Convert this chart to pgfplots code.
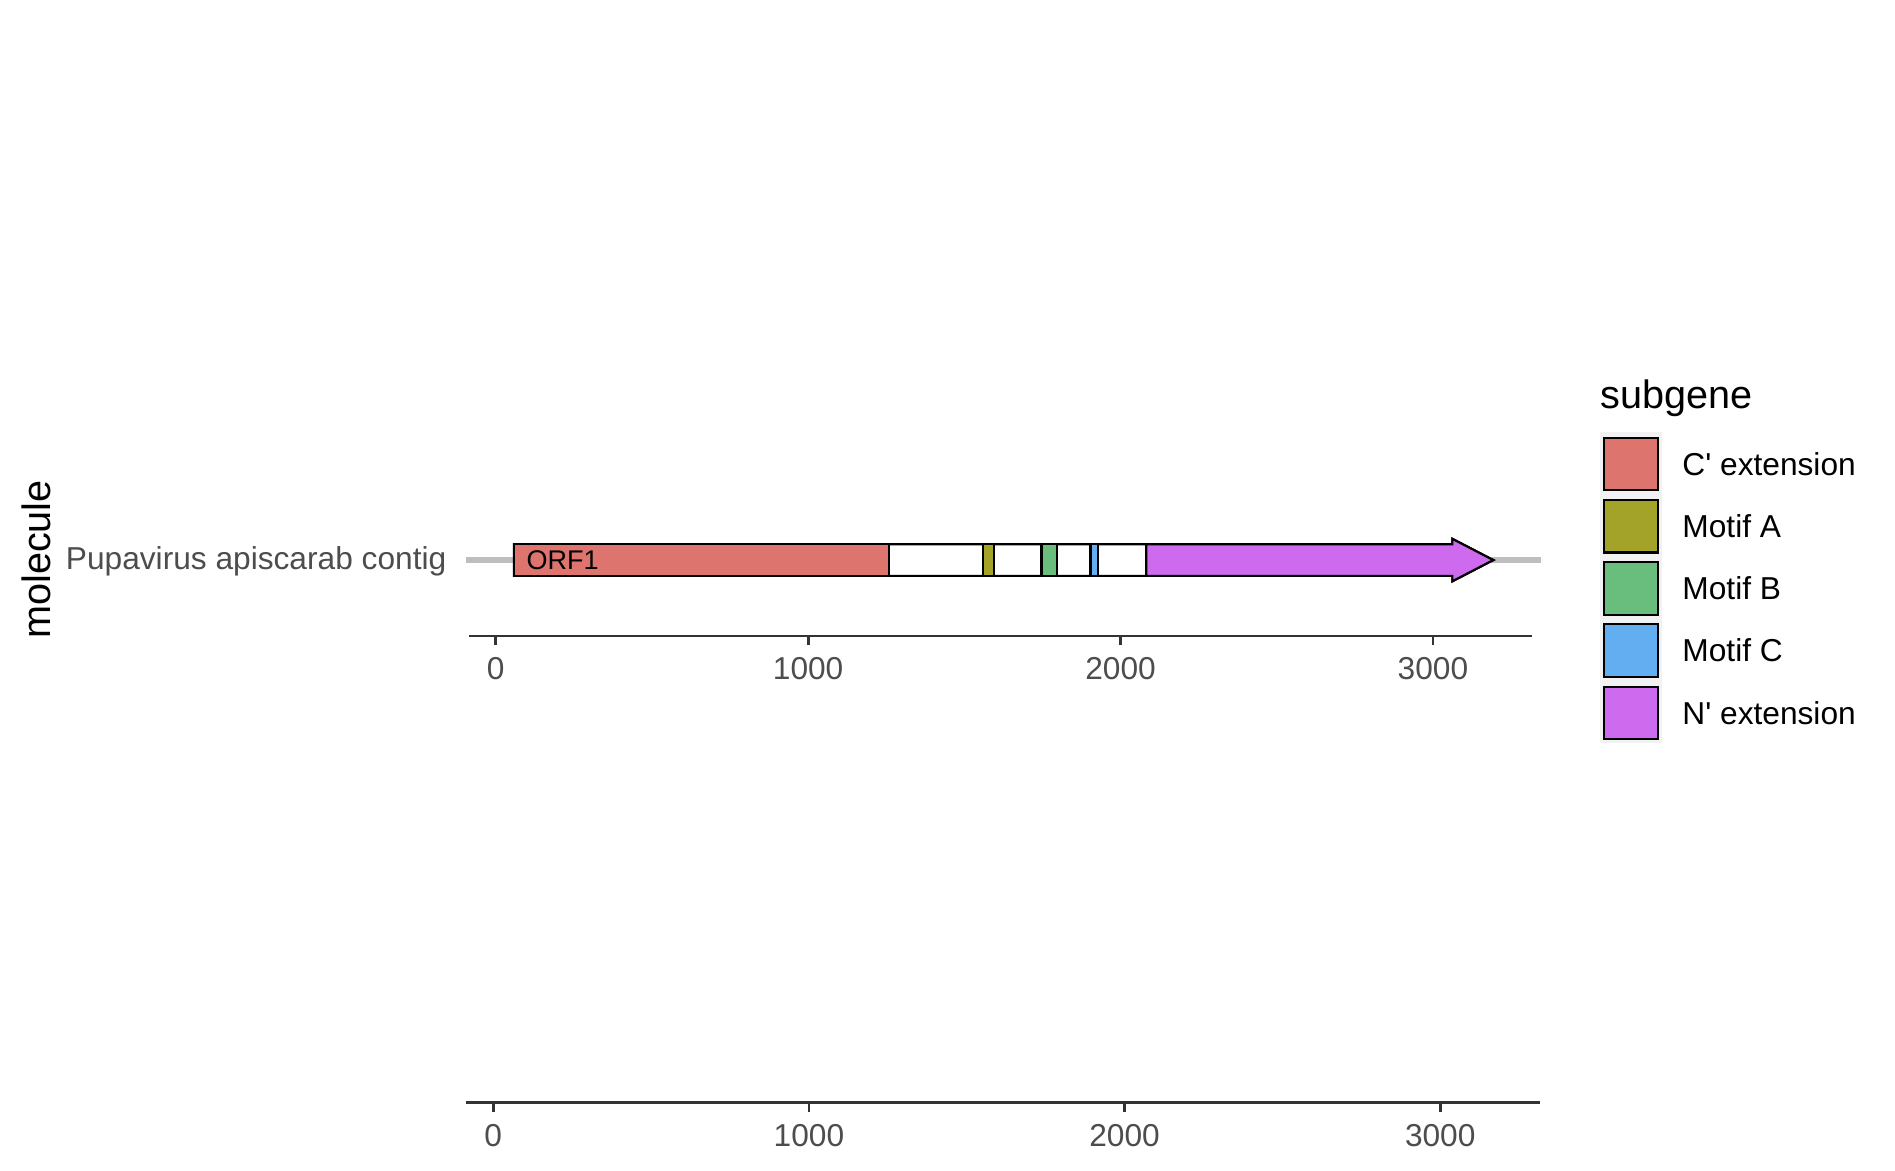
\documentclass[border=0pt]{standalone}
\usepackage{fontspec}
\setmainfont{Liberation Sans}
\usepackage{pgfplots}
\pgfplotsset{compat=1.18}
\definecolor{cext}{HTML}{DD756E}
\definecolor{motA}{HTML}{A3A229}
\definecolor{motB}{HTML}{69BE7E}
\definecolor{motC}{HTML}{63AEF0}
\definecolor{next}{HTML}{CD6AEE}
\definecolor{linegray}{HTML}{BEBEBE}
\definecolor{axgray}{HTML}{333333}
\definecolor{labgray}{HTML}{4D4D4D}
\definecolor{keybg}{HTML}{F2F2F2}
\pgfplotsset{
  genex/.style={
    scale only axis, anchor=south west,
    xmin=-86.5, xmax=3316,
    axis x line*=bottom, axis y line=none,
    x axis line style={draw=axgray, line width=0.8pt},
    xtick={0,1000,2000,3000}, xticklabels={0,1000,2000,3000},
    tick align=outside, major tick length=2.5pt,
    xtick style={draw=axgray, line width=0.8pt},
    xticklabel style={font=\fontsize{8.8}{10.56}\selectfont, text=labgray},
    clip=false, no markers,
  }
}
\begin{document}
\begin{tikzpicture}
\path[use as bounding box] (0,0) rectangle (526.39pt,325pt);
% top panel
\begin{axis}[genex, at={(130.19pt,148.33pt)}, width=295.28pt, height=50pt, ymin=0, ymax=50]
\addplot[draw=linegray, line width=1.67pt] coordinates {(-95,21.1) (3346,21.1)};
\addplot[fill=white, draw=black, line width=0.6pt] coordinates {(58,16.7) (3062,16.7) (3062,15.2) (3193,21.1) (3062,27.0) (3062,25.5) (58,25.5)} -- cycle;
\addplot[fill=cext, draw=black, line width=0.6pt] coordinates {(58,16.7) (1258,16.7) (1258,25.5) (58,25.5)} -- cycle;
\addplot[fill=motA, draw=black, line width=0.6pt] coordinates {(1559,16.7) (1594,16.7) (1594,25.5) (1559,25.5)} -- cycle;
\addplot[fill=motB, draw=black, line width=0.6pt] coordinates {(1747,16.7) (1797,16.7) (1797,25.5) (1747,25.5)} -- cycle;
\addplot[fill=motC, draw=black, line width=0.6pt] coordinates {(1904,16.7) (1928,16.7) (1928,25.5) (1904,25.5)} -- cycle;
\addplot[fill=next, draw=black, line width=0.6pt] coordinates {(2082,16.7) (3062,16.7) (3062,15.2) (3193,21.1) (3062,27.0) (3062,25.5) (2082,25.5)} -- cycle;
\node[anchor=west, inner sep=0pt, font=\fontsize{7.5}{9}\selectfont] at (axis cs:97,21.1) {ORF1};
\end{axis}
% bottom panel
\begin{axis}[genex, at={(129.44pt,18.69pt)}, width=298.33pt, height=10pt, ymin=0, ymax=1]
\addplot[draw=none] coordinates {(0,0.5)};
\end{axis}
% y labels
\node[anchor=east, inner sep=0pt, text=labgray, font=\fontsize{8.8}{10.56}\selectfont] at (124.17pt,169.0pt) {Pupavirus apiscarab contig};
\node[rotate=90, inner sep=0pt, font=\fontsize{11}{13.2}\selectfont] at (10.08pt,169.6pt) {molecule};
% legend
\node[anchor=base west, inner sep=0pt, font=\fontsize{11}{13.2}\selectfont] at (444.44pt,211.6pt) {subgene};
\fill[keybg] (444.44pt,118.61pt) rectangle (461.58pt,205.08pt);
\foreach \c/\y/\t in {cext/196.14/{C\textquotesingle{} extension}, motA/178.83/{Motif A}, motB/161.5/{Motif B}, motC/144.31/{Motif C}, next/126.94/{N\textquotesingle{} extension}}{
  \filldraw[fill=\c, draw=black, line width=0.6pt] (445.56pt,\y pt-7.28pt) rectangle (460.47pt,\y pt+7.28pt);
  \node[anchor=west, inner sep=0pt, font=\fontsize{8.8}{10.56}\selectfont] at (467.14pt,\y pt) {\t};
}
\end{tikzpicture}
\end{document}
